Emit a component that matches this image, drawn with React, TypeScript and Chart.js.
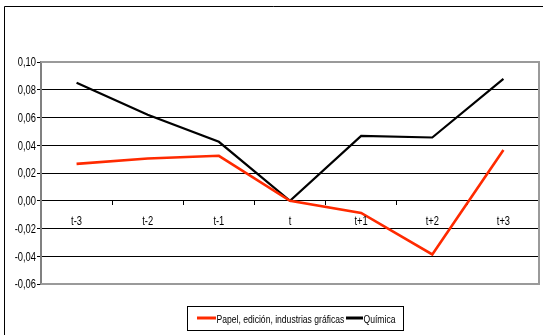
import React, { useEffect, useRef } from "react";
import { Chart, registerables } from "chart.js";

Chart.register(...registerables);

const categories = ["t-3", "t-2", "t-1", "t", "t+1", "t+2", "t+3"];
const papelValues = [0.0266, 0.0305, 0.0324, 0.0, -0.0088, -0.0387, 0.0365];
const quimicaValues = [0.085, 0.062, 0.0425, 0.0, 0.0468, 0.0456, 0.0879];
const seriesNames = ["Papel, edición, industrias gráficas", "Química"];
const seriesColors = ["#ff2a00", "#000000"];
const yMin = -0.06;
const yMax = 0.1;
const yStep = 0.02;

const FONT = "'Liberation Sans', Arial, sans-serif";
// horizontal squeeze that gives the narrow look of the labels
const NARROW = 0.78;

const fmt = (v: number) => {
  const s = v.toFixed(2).replace(".", ",");
  return s === "-0,00" ? "0,00" : s;
};

function narrowText(ctx: CanvasRenderingContext2D, text: string, x: number, y: number, align: "left" | "right" | "center") {
  ctx.save();
  ctx.translate(x, y);
  ctx.scale(NARROW, 1);
  ctx.textAlign = align;
  ctx.fillText(text, 0, 0);
  ctx.restore();
}

// Outer frame, plot border, axis labels and the legend box are drawn by hand
const decorations = {
  id: "decorations",
  beforeDraw(chart: any) {
    const ctx = chart.ctx;
    ctx.save();
    ctx.fillStyle = "#ffffff";
    ctx.fillRect(0, 0, chart.width, chart.height);
    ctx.strokeStyle = "#000000";
    ctx.lineWidth = 1;
    ctx.beginPath();
    ctx.moveTo(4.5, chart.height);
    ctx.lineTo(4.5, 6.5);
    ctx.lineTo(chart.width, 6.5);
    ctx.stroke();
    ctx.restore();
  },
  afterDraw(chart: any) {
    const ctx = chart.ctx;
    const a = chart.chartArea;
    const xs = chart.scales.x;
    const ys = chart.scales.y;
    ctx.save();
    ctx.strokeStyle = "#9a9a9a";
    ctx.lineWidth = 2;
    ctx.beginPath();
    ctx.moveTo(a.left, a.top);
    ctx.lineTo(a.right, a.top);
    ctx.lineTo(a.right, a.bottom);
    ctx.lineTo(a.left, a.bottom);
    ctx.stroke();

    // tick labels
    ctx.fillStyle = "#000000";
    ctx.font = `12px ${FONT}`;
    ctx.textBaseline = "middle";
    ys.ticks.forEach((t: any) => {
      narrowText(ctx, fmt(t.value), a.left - 5, ys.getPixelForValue(t.value) + 1, "right");
    });
    const labelY = ys.getPixelForValue(0) + 21;
    categories.forEach((c, i) => {
      narrowText(ctx, c, xs.getPixelForValue(i), labelY, "center");
    });

    // legend
    const bx = 187.5, by = 306.5, bw = 216, bh = 24;
    ctx.fillStyle = "#ffffff";
    ctx.fillRect(bx, by, bw, bh);
    ctx.strokeStyle = "#000000";
    ctx.lineWidth = 1;
    ctx.strokeRect(bx, by, bw, bh);
    ctx.fillStyle = "#000000";
    ctx.font = `11px ${FONT}`;
    const cy = by + bh / 2;
    const items = [
      { x0: 197, x1: 216, i: 0 },
      { x0: 346, x1: 363, i: 1 },
    ];
    items.forEach(({ x0, x1, i }) => {
      ctx.strokeStyle = chart.data.datasets[i].borderColor;
      ctx.lineWidth = 3;
      ctx.beginPath();
      ctx.moveTo(x0, cy - 0.5);
      ctx.lineTo(x1, cy - 0.5);
      ctx.stroke();
      narrowText(ctx, chart.data.datasets[i].label, x1 + 0.5, cy + 1, "left");
    });
    ctx.restore();
  },
};

export default function App() {
  const ref = useRef<HTMLCanvasElement>(null);

  useEffect(() => {
    if (!ref.current) return;
    const chart = new Chart(ref.current, {
      type: "line",
      data: {
        labels: categories,
        datasets: [
          {
            label: seriesNames[0],
            data: papelValues,
            borderColor: seriesColors[0],
            backgroundColor: seriesColors[0],
            borderWidth: 2.6,
            pointRadius: 0,
            tension: 0,
          },
          {
            label: seriesNames[1],
            data: quimicaValues,
            borderColor: seriesColors[1],
            backgroundColor: seriesColors[1],
            borderWidth: 2.2,
            pointRadius: 0,
            tension: 0,
          },
        ],
      },
      options: {
        responsive: false,
        animation: false,
        events: [],
        layout: { padding: { left: 0, right: 4, top: 62, bottom: 51 } },
        plugins: { legend: { display: false }, tooltip: { enabled: false } },
        scales: {
          x: {
            position: { y: 0 },
            offset: true,
            grid: {
              offset: true,
              drawOnChartArea: false,
              drawTicks: true,
              tickLength: 4,
              color: "#000000",
            },
            border: { display: true, color: "#000000", width: 1 },
            ticks: { display: false, autoSkip: false },
          },
          y: {
            min: yMin,
            max: yMax,
            afterFit(scale: any) {
              scale.width = 41;
            },
            grid: {
              color: (c: any) => {
                const v = c.tick ? c.tick.value : 0;
                return Math.abs(v - yMax) < 1e-9 || Math.abs(v - yMin) < 1e-9 ? "#9a9a9a" : "#000000";
              },
              lineWidth: 1,
              tickLength: 4,
              tickColor: "#000000",
            },
            border: { display: true, color: "#808080", width: 2 },
            ticks: { stepSize: yStep, display: false },
          },
        },
      },
      plugins: [decorations],
    });
    return () => chart.destroy();
  }, []);

  return (
    <div style={{ position: "fixed", left: 0, top: 0, width: 543, height: 335, background: "#fff" }}>
      <canvas ref={ref} width={543} height={335} />
    </div>
  );
}
